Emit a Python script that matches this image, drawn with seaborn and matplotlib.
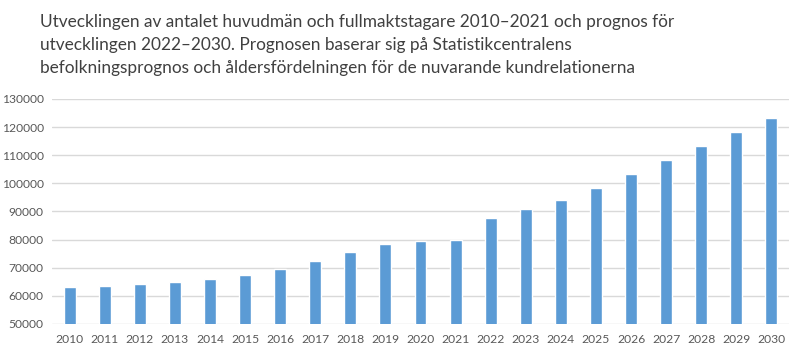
import pandas as pd
import matplotlib
matplotlib.use("Agg")
import matplotlib.pyplot as plt
import seaborn as sns

# Data
years = [str(y) for y in range(2010, 2031)]
values = [63150, 63500, 64200, 64900, 66000, 67400, 69550, 72400, 75600, 78400,
          79500, 79900, 87700, 90900, 94100, 98300, 103300, 108300, 113300, 118200, 123200]

title = ("Utvecklingen av antalet huvudmän och fullmaktstagare 2010–2021 och prognos för\n"
         "utvecklingen 2022–2030. Prognosen baserar sig på Statistikcentralens\n"
         "befolkningsprognos och åldersfördelningen för de nuvarande kundrelationerna")

sns.set_theme(style="white")
plt.rcParams['font.family'] = ['Lato', 'DejaVu Sans']

df = pd.DataFrame({'year': years, 'value': values})

fig = plt.figure(figsize=(7.94, 3.6), dpi=100)
ax = fig.add_axes([52 / 794, 36 / 360, 737 / 794, 225 / 360])

sns.barplot(data=df, x='year', y='value', color='#5b9bd5', width=0.34,
            saturation=1, ax=ax, zorder=3)

ax.set_ylim(50000, 130000)
ax.set_yticks(range(50000, 130001, 10000))
ax.set_xlim(-0.5, len(years) - 0.5)
ax.yaxis.grid(True, color='#d9d9d9', linewidth=1, zorder=0)
for s in ax.spines.values():
    s.set_visible(False)
ax.set_xlabel('')
ax.set_ylabel('')
ax.tick_params(axis='both', length=0, labelsize=8.7, colors='#595959')
ax.tick_params(axis='y', pad=6)
ax.tick_params(axis='x', pad=7)

fig.text(40 / 794, 1 - 14 / 360, title, ha='left', va='top', fontsize=12.4,
         color='#404040', linespacing=1.55)

fig.savefig('out.png', dpi=100)
